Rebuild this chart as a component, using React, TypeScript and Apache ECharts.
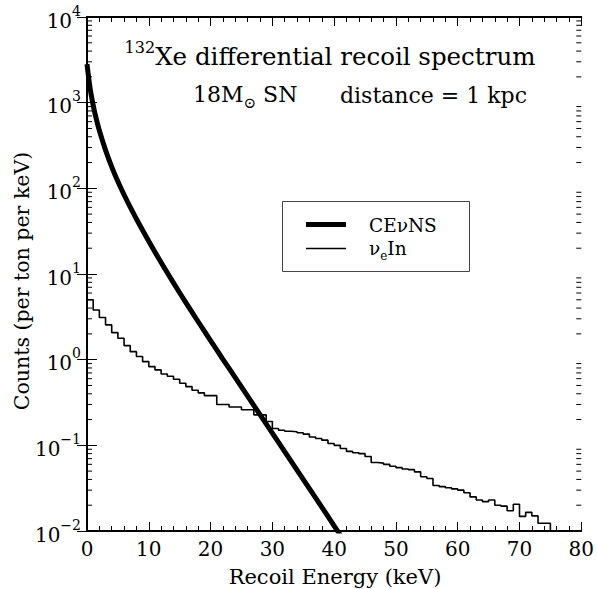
import React, { useEffect, useRef } from "react";
import * as echarts from "echarts";

// ---- data ----
const X_MIN = 0;
const X_MAX = 80;
const Y_MIN = 0.01;
const Y_MAX = 10000;

// CEvNS differential recoil spectrum (keV, counts per ton per keV)
const cevnsEnergy = [0, 0.5, 1, 1.5, 2, 3, 4, 5, 6, 7, 8, 10, 12, 14, 16, 18, 20, 22, 24, 26, 28, 30, 32, 34, 36, 38, 40, 42];
const cevnsRate = [2820, 1480, 933, 646, 473, 279, 178, 120, 84.1, 60.3, 43.9, 24.1, 13.6, 7.87, 4.63, 2.77, 1.67, 1.01, 0.617, 0.375, 0.228, 0.139, 0.0843, 0.0513, 0.0312, 0.019, 0.0115, 0.0070];

// nu_e In histogram, 1 keV bins starting at 0 keV
const nueBinWidth = 1;
const nueInRate = [
  5.0, 3.8, 3.1, 2.55, 2.07, 1.78, 1.46, 1.24, 1.09, 0.95,
  0.83, 0.76, 0.68, 0.64, 0.59, 0.53, 0.485, 0.44, 0.41, 0.38,
  0.38, 0.30, 0.30, 0.28, 0.28, 0.26, 0.26, 0.227, 0.227, 0.19,
  0.157, 0.15, 0.146, 0.144, 0.14, 0.135, 0.125, 0.12, 0.115, 0.105,
  0.10, 0.092, 0.085, 0.082, 0.08, 0.074, 0.063, 0.062, 0.06, 0.057,
  0.055, 0.053, 0.052, 0.049, 0.043, 0.041, 0.034, 0.033, 0.032, 0.031,
  0.030, 0.028, 0.025, 0.023, 0.022, 0.023, 0.020, 0.0195, 0.0172, 0.0205,
  0.0148, 0.0165, 0.015, 0.0123, 0.0123,
];

const xTickInterval = 10;
const FONT = "DejaVu Serif";

export default function App() {
  const ref = useRef<HTMLDivElement>(null);

  useEffect(() => {
    if (!ref.current) return;
    const chart = echarts.init(ref.current, null, { renderer: "svg" });

    const cevnsData = cevnsEnergy.map((e, i) => [e, cevnsRate[i]]);
    const histData: number[][] = nueInRate.map((v, i) => [i * nueBinWidth, v]);
    const lastEdge = nueInRate.length * nueBinWidth;
    histData.push([lastEdge, nueInRate[nueInRate.length - 1]]);
    histData.push([lastEdge, Y_MIN / 10]);

    // minor log ticks 2..9 per decade
    const minorLog: number[][] = [];
    for (let d = -2; d < 4; d++) {
      for (let k = 2; k <= 9; k++) minorLog.push([0, k * Math.pow(10, d)]);
    }

    const supFmt = (val: number) => {
      const e = Math.round(Math.log10(val));
      const es = e < 0 ? "\u2212" + -e : String(e);
      return `{b|10}{s|${es}}`;
    };

    const tickStyle = { color: "#000", width: 1 };

    chart.setOption({
      animation: false,
      grid: { left: 87, right: 14, top: 17, bottom: 58, containLabel: false },
      xAxis: [
        {
          type: "value",
          min: X_MIN,
          max: X_MAX,
          interval: xTickInterval,
          position: "bottom",
          axisLine: { show: true, lineStyle: { color: "#000", width: 2 } },
          axisTick: { show: true, inside: true, length: 9, lineStyle: tickStyle },
          minorTick: { show: true, splitNumber: 5, length: 5, lineStyle: tickStyle },
          splitLine: { show: false },
          axisLabel: { color: "#000", fontFamily: FONT, fontSize: 20, margin: 8 },
        },
        {
          type: "value",
          min: X_MIN,
          max: X_MAX,
          interval: xTickInterval,
          position: "top",
          axisLine: { show: true, onZero: false, lineStyle: { color: "#000", width: 2 } },
          axisTick: { show: true, inside: true, length: 9, lineStyle: tickStyle },
          minorTick: { show: true, splitNumber: 5, length: 5, lineStyle: tickStyle },
          splitLine: { show: false },
          axisLabel: { show: false },
        },
      ],
      yAxis: [
        {
          type: "log",
          logBase: 10,
          min: Y_MIN,
          max: Y_MAX,
          interval: 1,
          splitNumber: 6,
          position: "left",
          axisLine: { show: true, lineStyle: { color: "#000", width: 2 } },
          axisTick: { show: true, inside: true, length: 10, lineStyle: tickStyle },
          splitLine: { show: false },
          axisLabel: {
            formatter: supFmt,
            margin: 6,
            rich: {
              b: { fontFamily: FONT, fontSize: 20, color: "#000", padding: [7, 0, 0, 0] },
              s: { fontFamily: FONT, fontSize: 14, color: "#000", verticalAlign: "top" },
            },
          },
        },
        {
          type: "log",
          logBase: 10,
          min: Y_MIN,
          max: Y_MAX,
          interval: 1,
          splitNumber: 6,
          position: "right",
          axisLine: { show: true, lineStyle: { color: "#000", width: 2 } },
          axisTick: { show: true, inside: true, length: 10, lineStyle: tickStyle },
          splitLine: { show: false },
          axisLabel: { show: false },
        },
      ],
      series: [
        {
          type: "custom",
          xAxisIndex: 0,
          yAxisIndex: 0,
          silent: true,
          data: minorLog,
          renderItem: (params: any, api: any) => {
            const v = api.value(1);
            const pL = api.coord([X_MIN, v]);
            const pR = api.coord([X_MAX, v]);
            return {
              type: "group",
              children: [
                { type: "line", shape: { x1: pL[0], y1: pL[1], x2: pL[0] + 5, y2: pL[1] }, style: { stroke: "#000", lineWidth: 1 } },
                { type: "line", shape: { x1: pR[0] - 5, y1: pR[1], x2: pR[0], y2: pR[1] }, style: { stroke: "#000", lineWidth: 1 } },
              ],
            };
          },
        },
        {
          name: "νeIn",
          type: "line",
          data: histData,
          step: "end",
          showSymbol: false,
          symbol: "none",
          clip: true,
          lineStyle: { color: "#000", width: 1.6 },
        },
        {
          name: "CEνNS",
          type: "line",
          data: cevnsData,
          smooth: 0.35,
          showSymbol: false,
          symbol: "none",
          clip: true,
          lineStyle: { color: "#000", width: 5, join: "round" },
        },
      ],
      graphic: [
        {
          type: "text",
          x: 330,
          y: 54,
          style: {
            text: "{sup|132}{m|Xe differential recoil spectrum}",
            align: "center",
            verticalAlign: "middle",
            rich: {
              sup: { fontFamily: FONT, fontSize: 16, fill: "#000", verticalAlign: "top" },
              m: { fontFamily: FONT, fontSize: 24.5, fill: "#000", padding: [5, 0, 0, 0] },
            },
          },
        },
        {
          type: "text",
          x: 193,
          y: 97,
          style: {
            text: "{m|18M}{sub|⊙}{m| SN}",
            align: "left",
            verticalAlign: "middle",
            rich: {
              m: { fontFamily: FONT, fontSize: 22, fill: "#000", padding: [0, 0, 5, 0] },
              sub: { fontFamily: FONT, fontSize: 15, fill: "#000", verticalAlign: "bottom" },
            },
          },
        },
        {
          type: "text",
          x: 340,
          y: 95,
          style: {
            text: "distance = 1 kpc",
            fontFamily: FONT,
            fontSize: 22,
            fill: "#000",
            align: "left",
            verticalAlign: "middle",
          },
        },
        {
          type: "rect",
          shape: { x: 282.5, y: 201.5, width: 187, height: 70 },
          style: { fill: "#fff", stroke: "#444", lineWidth: 1 },
        },
        {
          type: "line",
          shape: { x1: 306, y1: 224.5, x2: 346, y2: 224.5 },
          style: { stroke: "#000", lineWidth: 5 },
        },
        {
          type: "line",
          shape: { x1: 306, y1: 248.5, x2: 346, y2: 248.5 },
          style: { stroke: "#000", lineWidth: 1.6 },
        },
        {
          type: "text",
          x: 369,
          y: 225,
          style: { text: "CEνNS", fontFamily: FONT, fontSize: 18.5, fill: "#000", align: "left", verticalAlign: "middle" },
        },
        {
          type: "text",
          x: 369,
          y: 250,
          style: {
            text: "{m|ν}{sub|e}{m|In}",
            align: "left",
            verticalAlign: "middle",
            rich: {
              m: { fontFamily: FONT, fontSize: 18.5, fill: "#000", padding: [0, 0, 4, 0] },
              sub: { fontFamily: FONT, fontSize: 12, fill: "#000", verticalAlign: "bottom" },
            },
          },
        },
        {
          type: "text",
          x: 22,
          y: 281,
          rotation: Math.PI / 2,
          style: {
            text: "Counts (per ton per keV)",
            fontFamily: FONT,
            fontSize: 20.5,
            fill: "#000",
            align: "center",
            verticalAlign: "middle",
          },
        },
        {
          type: "text",
          x: 335,
          y: 577,
          style: {
            text: "Recoil Energy (keV)",
            fontFamily: FONT,
            fontSize: 21,
            fill: "#000",
            align: "center",
            verticalAlign: "middle",
          },
        },
      ],
    });

    return () => chart.dispose();
  }, []);

  return <div ref={ref} style={{ width: 597, height: 589, position: "absolute", left: 0, top: 0, background: "#fff" }} />;
}
